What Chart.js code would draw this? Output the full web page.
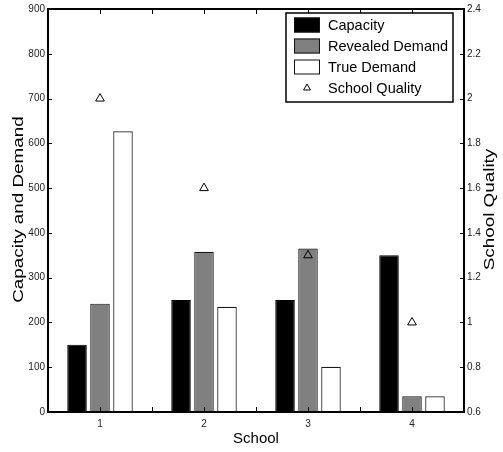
<!DOCTYPE html>
<html>
<head>
<meta charset="utf-8">
<script src="https://cdn.jsdelivr.net/npm/chart.js@4/dist/chart.umd.min.js"></script>
<style>
  html, body { margin: 0; padding: 0; background: #fff; }
  canvas { display: block; }
</style>
</head>
<body>
<canvas id="chart" width="503" height="452"></canvas>
<script>
// Schools and their capacity / demand figures
const schools = ['1', '2', '3', '4'];
const capacity = [150, 250, 250, 350];
const revealedDemand = [242, 358, 365, 35];
const trueDemand = [627, 235, 101, 35];
const schoolQuality = [2.0, 1.6, 1.3, 1.0];

const seriesNames = ['Capacity', 'Revealed Demand', 'True Demand', 'School Quality'];
const leftTitle = 'Capacity and Demand';
const rightTitle = 'School Quality';
const bottomTitle = 'School';

const FONT = '"Liberation Sans", Arial, Helvetica, sans-serif';

// Frame, inward tick marks, boxed legend and stretched vertical titles
const decorPlugin = {
  id: 'decor',
  afterDraw(chart) {
    const { ctx, chartArea: a, scales } = chart;
    const xs = scales.x, yl = scales.y, yr = scales.y1;
    ctx.save();
    ctx.strokeStyle = '#000';
    ctx.lineWidth = 1;
    ctx.beginPath();
    // x ticks at category centres and between categories, top and bottom
    const xPos = [];
    for (let i = 0; i < schools.length; i++) {
      xPos.push(xs.getPixelForValue(i));
      if (i < schools.length - 1) {
        xPos.push((xs.getPixelForValue(i) + xs.getPixelForValue(i + 1)) / 2);
      }
    }
    xPos.forEach(px => {
      const p = Math.round(px) + 0.5;
      ctx.moveTo(p, a.bottom); ctx.lineTo(p, a.bottom - 5);
      ctx.moveTo(p, a.top); ctx.lineTo(p, a.top + 5);
    });
    yl.ticks.forEach(t => {
      const p = Math.round(yl.getPixelForValue(t.value)) + 0.5;
      ctx.moveTo(a.left, p); ctx.lineTo(a.left + 4, p);
    });
    yr.ticks.forEach(t => {
      const p = Math.round(yr.getPixelForValue(t.value)) + 0.5;
      ctx.moveTo(a.right, p); ctx.lineTo(a.right - 4, p);
    });
    ctx.stroke();

    // plot frame
    ctx.lineWidth = 2;
    ctx.strokeRect(a.left, a.top, a.width, a.height);

    // legend box
    const ds = chart.data.datasets;
    const bx = a.right - 178, by = a.top + 4, bw = 167, bh = 89;
    ctx.fillStyle = '#fff';
    ctx.fillRect(bx, by, bw, bh);
    ctx.lineWidth = 1.5;
    ctx.strokeStyle = '#000';
    ctx.strokeRect(bx, by, bw, bh);
    ctx.font = '14.5px ' + FONT;
    ctx.textBaseline = 'middle';
    ctx.textAlign = 'left';
    for (let i = 0; i < 4; i++) {
      const cy = by + 12 + i * 21;
      if (i < 3) {
        ctx.fillStyle = ds[i].backgroundColor;
        ctx.fillRect(bx + 8, cy - 7.5, 26, 15);
        ctx.lineWidth = 1;
        ctx.strokeStyle = '#111';
        ctx.strokeRect(bx + 8.5, cy - 7, 25, 14);
      } else {
        const cx = bx + 21;
        const r = 4;
        ctx.beginPath();
        ctx.moveTo(cx, cy - r);
        ctx.lineTo(cx + r * 0.866, cy + r / 2);
        ctx.lineTo(cx - r * 0.866, cy + r / 2);
        ctx.closePath();
        ctx.lineWidth = 1;
        ctx.strokeStyle = '#000';
        ctx.stroke();
      }
      ctx.fillStyle = '#000';
      ctx.fillText(seriesNames[i], bx + 42, cy + 1);
    }

    // vertical axis titles, both reading bottom to top
    const midY = (a.top + a.bottom) / 2;
    ctx.font = '14.5px ' + FONT;
    ctx.textAlign = 'center';
    ctx.textBaseline = 'middle';
    ctx.fillStyle = '#000';
    [[19, midY - 1, leftTitle], [490, midY - 1, rightTitle]].forEach(([tx, ty, txt]) => {
      ctx.save();
      ctx.translate(tx, ty);
      ctx.rotate(-Math.PI / 2);
      ctx.scale(1.3, 1);
      ctx.fillText(txt, 0, 0);
      ctx.restore();
    });
    ctx.restore();
  }
};

const tickFont = { family: FONT, size: 10 };

new Chart(document.getElementById('chart'), {
  type: 'bar',
  data: {
    labels: schools,
    datasets: [
      { label: seriesNames[0], data: capacity, backgroundColor: '#000000', borderColor: '#000000',
        borderWidth: 1, order: 1 },
      { label: seriesNames[1], data: revealedDemand, backgroundColor: '#808080', borderColor: '#1a1a1a',
        borderWidth: 1.2, order: 1 },
      { label: seriesNames[2], data: trueDemand, backgroundColor: '#ffffff', borderColor: '#1a1a1a',
        borderWidth: 1.2, order: 1 },
      { type: 'line', label: seriesNames[3], data: schoolQuality, yAxisID: 'y1', showLine: false,
        pointStyle: 'triangle', pointRadius: 5, pointBorderWidth: 1, borderColor: '#000',
        pointBackgroundColor: 'rgba(0,0,0,0)', backgroundColor: 'rgba(0,0,0,0)', order: 0 }
    ]
  },
  options: {
    responsive: false,
    animation: false,
    devicePixelRatio: 1,
    layout: { padding: { top: 9, left: 0, right: 0, bottom: 0 } },
    datasets: { bar: { categoryPercentage: 0.663, barPercentage: 0.85 } },
    plugins: { legend: { display: false }, tooltip: { enabled: false } },
    scales: {
      x: {
        type: 'category',
        offset: true,
        grid: { display: false, drawTicks: false },
        border: { display: false },
        ticks: { font: tickFont, color: '#222', padding: 6, maxRotation: 0 },
        title: { display: true, text: bottomTitle, font: { family: FONT, size: 15 }, color: '#000',
                 padding: { top: 0, bottom: 4 } },
        afterFit(s) { s.height = 40; }
      },
      y: {
        position: 'left',
        min: 0, max: 900,
        grid: { display: false, drawTicks: false },
        border: { display: false },
        ticks: { stepSize: 100, font: tickFont, color: '#222', padding: 3 },
        afterFit(s) { s.width = 48; }
      },
      y1: {
        position: 'right',
        min: 0.6, max: 2.4,
        grid: { display: false, drawTicks: false },
        border: { display: false },
        ticks: { stepSize: 0.2, font: tickFont, color: '#222', padding: 3,
                 callback: v => String(+v.toFixed(1)) },
        afterFit(s) { s.width = 39; }
      }
    }
  },
  plugins: [decorPlugin]
});
</script>
</body>
</html>
